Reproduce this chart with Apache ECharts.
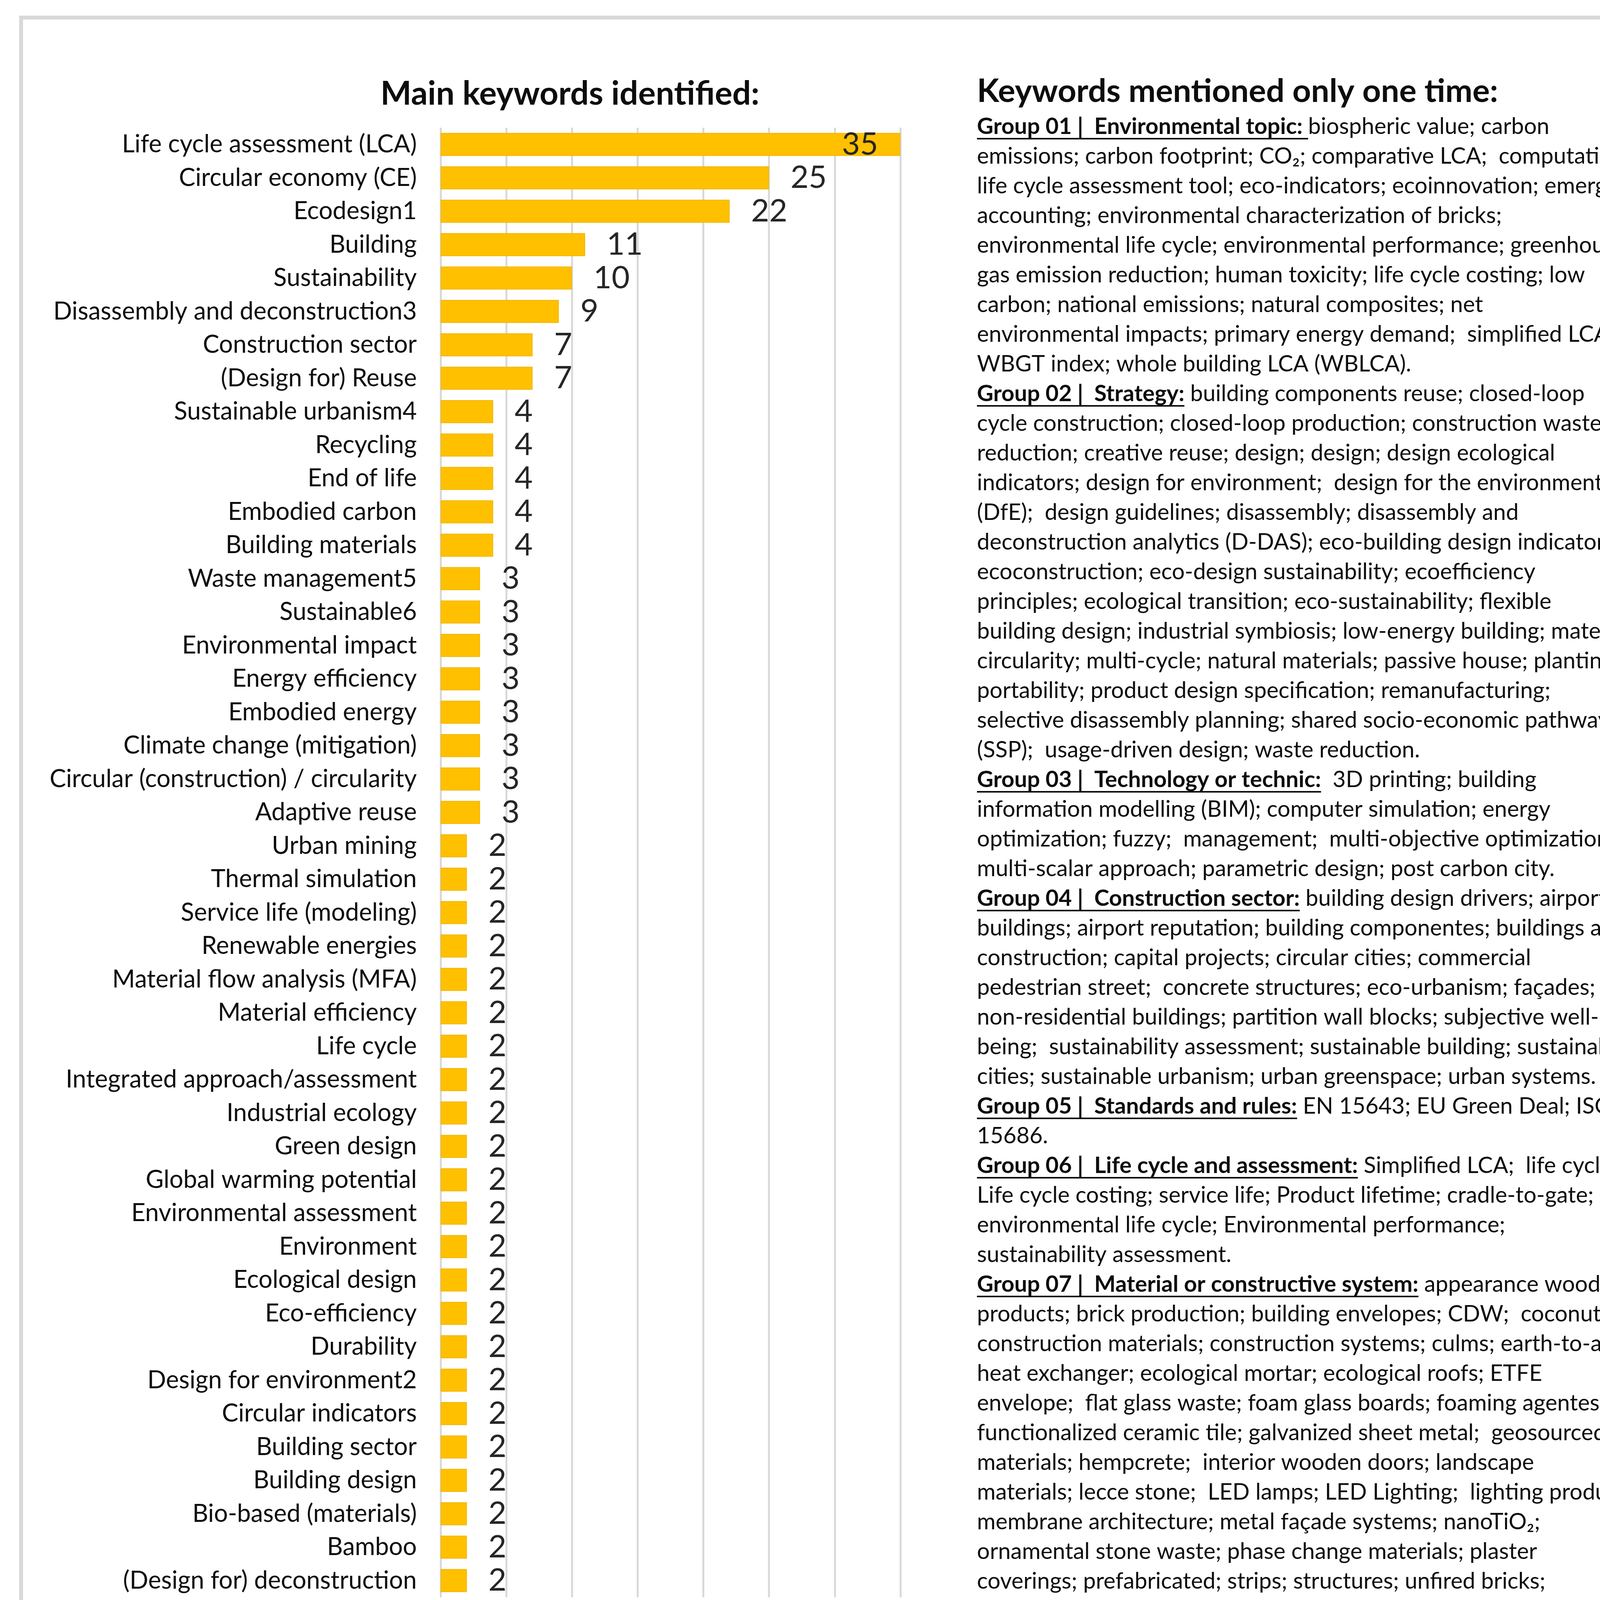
<!DOCTYPE html>
<html><head><meta charset="utf-8">
<script src="https://cdn.jsdelivr.net/npm/echarts@6/dist/echarts.min.js"></script>
<style>html,body{margin:0;padding:0;background:#fff}#c{width:4330px;height:5030px}</style>
</head><body><div id="c"></div>
<script>
const categories = [
  'Life cycle assessment (LCA)','Circular economy (CE)','Ecodesign1','Building','Sustainability',
  'Disassembly and deconstruction3','Construction sector','(Design for) Reuse','Sustainable urbanism4',
  'Recycling','End of life','Embodied carbon','Building materials','Waste management5','Sustainable6',
  'Environmental impact','Energy efficiency','Embodied energy','Climate change (mitigation)',
  'Circular (construction) / circularity','Adaptive reuse','Urban mining','Thermal simulation',
  'Service life (modeling)','Renewable energies','Material flow analysis (MFA)','Material efficiency',
  'Life cycle','Integrated approach/assessment','Industrial ecology','Green design',
  'Global warming potential','Environmental assessment','Environment','Ecological design',
  'Eco-efficiency','Durability','Design for environment2','Circular indicators','Building sector',
  'Building design','Bio-based (materials)','Bamboo','(Design for) deconstruction'
];
const counts = [35,25,22,11,10,9,7,7,4,4,4,4,4,3,3,3,3,3,3,3,3,2,2,2,2,2,2,2,2,2,2,2,2,2,2,2,2,2,2,2,2,2,2,2];
const axisMin = 0, axisMax = 35, axisStep = 5;

const chartTitle = 'Main keywords identified:';
const footnoteTitle = 'Keywords variations:';
const footnotes = [
  '\u00B9Eco-design; Eco-design sustainability; Ecological design;',
  '\u00B2Design for the environment (DfE);',
  '\u00B3Selective disassembly planning; Design for deconstruction; Disassembly and',
  'deconstruction analytics; Design for disassembly (DfD)',
  '\u2074Sustainable urbanism; Sustainable cities; Circular Cities; Eco-urbanism',
  '\u2075Construcion waste management, Construction waste.',
  '\u2076Sustainable construction, sustainable design, sustainable materials, sustainable',
  'development goals (SDGs).'
];

const sideTitle = 'Keywords mentioned only one time:';
const sideLines = [
  ['Group 01 |  Environmental topic: ', 'biospheric value; carbon'],
  ['', 'emissions; carbon footprint; CO\u2082; comparative LCA;  computational'],
  ['', 'life cycle assessment tool; eco-indicators; ecoinnovation; emergy'],
  ['', 'accounting; environmental characterization of bricks;'],
  ['', 'environmental life cycle; environmental performance; greenhouse'],
  ['', 'gas emission reduction; human toxicity; life cycle costing; low'],
  ['', 'carbon; national emissions; natural composites; net'],
  ['', 'environmental impacts; primary energy demand;  simplified LCA;'],
  ['', 'WBGT index; whole building LCA (WBLCA).'],
  ['Group 02 |  Strategy:', ' building components reuse; closed-loop'],
  ['', 'cycle construction; closed-loop production; construction waste'],
  ['', 'reduction; creative reuse; design; design; design ecological'],
  ['', 'indicators; design for environment;  design for the environment'],
  ['', '(DfE);  design guidelines; disassembly; disassembly and'],
  ['', 'deconstruction analytics (D-DAS); eco-building design indicators;'],
  ['', 'ecoconstruction; eco-design sustainability; ecoefficiency'],
  ['', 'principles; ecological transition; eco-sustainability; flexible'],
  ['', 'building design; industrial symbiosis; low-energy building; material'],
  ['', 'circularity; multi-cycle; natural materials; passive house; planting;'],
  ['', 'portability; product design specification; remanufacturing;'],
  ['', 'selective disassembly planning; shared socio-economic pathway'],
  ['', '(SSP);  usage-driven design; waste reduction.'],
  ['Group 03 |  Technology or technic:', '  3D printing; building'],
  ['', 'information modelling (BIM); computer simulation; energy'],
  ['', 'optimization; fuzzy;  management;  multi-objective optimization;'],
  ['', 'multi-scalar approach; parametric design; post carbon city.'],
  ['Group 04 |  Construction sector:', ' building design drivers; airport'],
  ['', 'buildings; airport reputation; building componentes; buildings and'],
  ['', 'construction; capital projects; circular cities; commercial'],
  ['', 'pedestrian street;  concrete structures; eco-urbanism; fa\u00E7ades;'],
  ['', 'non-residential buildings; partition wall blocks; subjective well-'],
  ['', 'being;  sustainability assessment; sustainable building; sustainable'],
  ['', 'cities; sustainable urbanism; urban greenspace; urban systems.'],
  ['Group 05 |  Standards and rules:', ' EN 15643; EU Green Deal; ISO'],
  ['', '15686.'],
  ['Group 06 |  Life cycle and assessment:', ' Simplified LCA;  life cycle;'],
  ['', 'Life cycle costing; service life; Product lifetime; cradle-to-gate;'],
  ['', 'environmental life cycle; Environmental performance;'],
  ['', 'sustainability assessment.'],
  ['Group 07 |  Material or constructive system:', ' appearance wood'],
  ['', 'products; brick production; building envelopes; CDW;  coconut;'],
  ['', 'construction materials; construction systems; culms; earth-to-air'],
  ['', 'heat exchanger; ecological mortar; ecological roofs; ETFE'],
  ['', 'envelope;  flat glass waste; foam glass boards; foaming agentes;'],
  ['', 'functionalized ceramic tile; galvanized sheet metal;  geosourced'],
  ['', 'materials; hempcrete;  interior wooden doors; landscape'],
  ['', 'materials; lecce stone;  LED lamps; LED Lighting;  lighting product;'],
  ['', 'membrane architecture; metal fa\u00E7ade systems; nanoTiO\u2082;'],
  ['', 'ornamental stone waste; phase change materials; plaster'],
  ['', 'coverings; prefabricated; strips; structures; unfired bricks;'],
  ['', 'ventilated wooden wall; wood sector.'],
  ['Group 08 |  Others:', ' automotive scrap; buyer\u2013supplier'],
  ['', 'relationships; case studies; complexity; cradle-to-gate; customer'],
  ['', 'approach behavioral intentions; decision support; discount rate;'],
  ['', 'eco-fusion; fitness measures; forest sector; general equilibrium;'],
  ['', 'green procurement;  implementation; model; nationally'],
  ['', 'determined contributions; networks; occupants\' behaviour;'],
  ['', 'packaging; PLA;  polyurethane waste;  prevention;  processing;'],
  ['', 'product lifetime; relationship framework; renovation; research-'],
  ['', 'practice gap; slag; SME; stone waste; thermal regulation valid'],
  ['', 'shaded area; transportation; uncertainty; unethical practices; valid'],
  ['', 'shaded area.']
];

const FONT = 'Lato, "Noto Sans", sans-serif';
const TXT = '#0d0d0d';
const BODY = 58;
const NOTE = 58;

const measure = (() => {
  const ctx = document.createElement('canvas').getContext('2d');
  return (s, size, weight) => { ctx.font = (weight || 'normal') + ' ' + size + 'px ' + FONT; return ctx.measureText(s).width; };
})();

const graphics = [];
graphics.push({type:'rect', shape:{x:54, y:45, width:4227, height:4947}, style:{fill:'none', stroke:'#d9d9d9', lineWidth:10}, silent:true});
graphics.push({type:'text', x:1459, y:241, style:{text:chartTitle, fontFamily:FONT, fontSize:84, fontWeight:'bold', fill:TXT, align:'center', verticalAlign:'middle'}});
graphics.push({type:'text', x:2501, y:234, style:{text:sideTitle, fontFamily:FONT, fontSize:83, fontWeight:'bold', fill:TXT, align:'left', verticalAlign:'middle'}});
graphics.push({type:'text', x:2325, y:4310, style:{text:footnoteTitle, fontFamily:FONT, fontSize:61, fontWeight:'bold', fill:'#262626', align:'right', verticalAlign:'middle'}});
footnotes.forEach((s, i) => {
  graphics.push({type:'text', x:2325, y:4387 + i*77, style:{text:s, fontFamily:FONT, fontSize:NOTE, fill:'#262626', align:'right', verticalAlign:'middle'}});
});
sideLines.forEach((ln, i) => {
  const y = 324 + i*76;
  let x = 2501;
  if (ln[0]) {
    const w = measure(ln[0], BODY, 'bold');
    graphics.push({type:'text', x:x, y:y, style:{text:ln[0], fontFamily:FONT, fontSize:BODY, fontWeight:'bold', fill:TXT, align:'left', verticalAlign:'middle'}});
    graphics.push({type:'rect', shape:{x:x, y:y+29, width:w, height:4}, style:{fill:TXT}, silent:true});
    x += w;
  }
  graphics.push({type:'text', x:x, y:y, style:{text:ln[1], fontFamily:FONT, fontSize:BODY, fill:TXT, align:'left', verticalAlign:'middle'}});
});

const barData = counts.map(v => v >= axisMax
  ? {value:v, label:{position:'insideRight', distance:57}}
  : v);

const chart = echarts.init(document.getElementById('c'), null, {renderer:'canvas'});
chart.setOption({
  animation:false,
  backgroundColor:'#fff',
  textStyle:{fontFamily:FONT},
  grid:{left:1128, right:2025, top:327, bottom:941},
  xAxis:{type:'value', min:axisMin, max:axisMax, interval:axisStep,
    axisLine:{show:false}, axisTick:{show:false},
    splitLine:{show:true, lineStyle:{color:'#d9d9d9', width:5}},
    axisLabel:{fontSize:80, color:'#262626', margin:70, fontFamily:FONT}},
  yAxis:{type:'category', data:categories, inverse:true,
    axisLine:{show:false}, axisTick:{show:false},
    axisLabel:{fontSize:63, color:TXT, margin:61, fontFamily:FONT, interval:0}},
  series:[{type:'bar', data:barData, barWidth:59,
    itemStyle:{color:'#FFC000', borderColor:'#F2B600', borderWidth:2},
    label:{show:true, position:'right', distance:55, fontSize:80, color:'#262626', fontFamily:FONT}}],
  graphic:graphics
});
</script></body></html>
